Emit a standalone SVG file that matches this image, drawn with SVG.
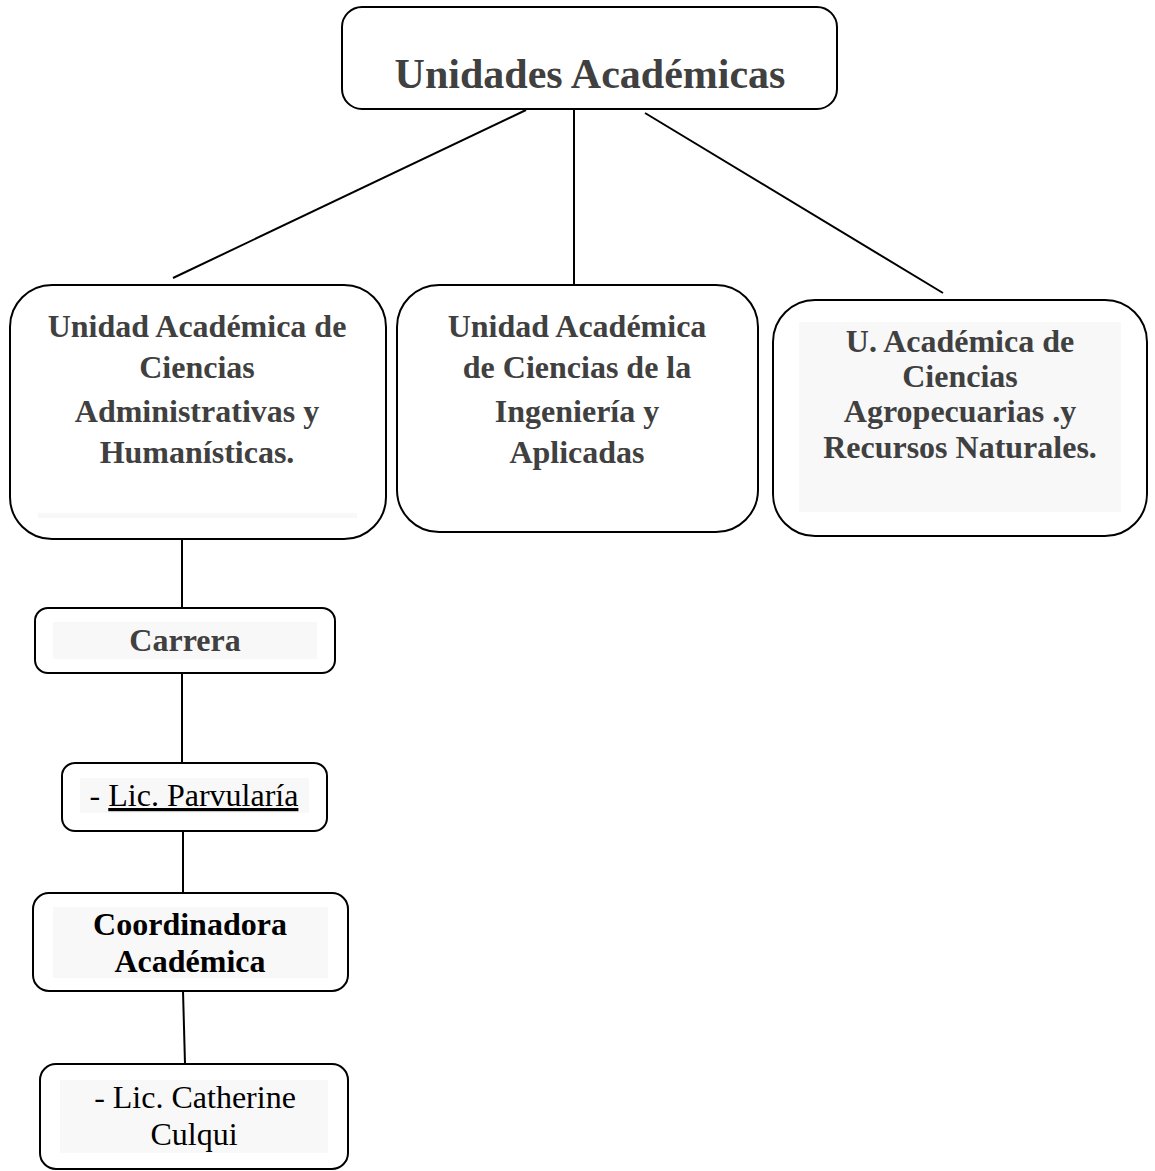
<svg xmlns="http://www.w3.org/2000/svg" width="1155" height="1171" viewBox="0 0 1155 1171">
<style>
.box{fill:#ffffff;stroke:#000000;stroke-width:2}
.hl{fill:#f8f8f8;stroke:none}
.conn line{stroke:#000000;stroke-width:2}
text{font-family:"Liberation Serif","Times New Roman",serif;text-anchor:middle}
.b{font-weight:bold;font-size:32px;fill:#404040}
.bk{font-weight:bold;font-size:32px;fill:#000000}
.n{font-size:32px;fill:#000000}
.t{font-weight:bold;font-size:42px;fill:#404040}
</style>
<rect width="1155" height="1171" fill="#ffffff"/>
<g id="connectors" class="conn">
<line x1="526" y1="110" x2="173" y2="278"/>
<line x1="574" y1="110" x2="574" y2="285"/>
<line x1="645" y1="113" x2="943" y2="293"/>
<line x1="182" y1="540" x2="182" y2="608"/>
<line x1="182" y1="673" x2="182" y2="763"/>
<line x1="183" y1="831" x2="183" y2="893"/>
<line x1="183" y1="991" x2="185" y2="1064"/>
</g>
<g id="node-unidades">
<rect class="box" x="342" y="7" width="495" height="102" rx="20"/>
<text class="t" x="590" y="88">Unidades Académicas</text>
</g>
<g id="node-ua-administrativas">
<rect class="box" x="10" y="285" width="376" height="254" rx="42"/>
<rect class="hl" x="38" y="513" width="319" height="5"/>
<text class="b" x="197" y="337">Unidad Académica de</text>
<text class="b" x="197" y="378">Ciencias</text>
<text class="b" x="197" y="422">Administrativas y</text>
<text class="b" x="197" y="463">Humanísticas.</text>
</g>
<g id="node-ua-ingenieria">
<rect class="box" x="397" y="285" width="361" height="247" rx="42"/>
<text class="b" x="577" y="337">Unidad Académica</text>
<text class="b" x="577" y="378">de Ciencias de la</text>
<text class="b" x="577" y="422">Ingeniería y</text>
<text class="b" x="577" y="463">Aplicadas</text>
</g>
<g id="node-ua-agropecuarias">
<rect class="box" x="773" y="300" width="374" height="236" rx="42"/>
<rect class="hl" x="799" y="322" width="322" height="190"/>
<text class="b" x="960" y="352">U. Académica de</text>
<text class="b" x="960" y="387">Ciencias</text>
<text class="b" x="960" y="422">Agropecuarias .y</text>
<text class="b" x="960" y="458">Recursos Naturales.</text>
</g>
<g id="node-carrera">
<rect class="box" x="35" y="608" width="300" height="65" rx="13"/>
<rect class="hl" x="53" y="622" width="264" height="37"/>
<text class="b" x="185" y="651">Carrera</text>
</g>
<g id="node-parvularia">
<rect class="box" x="62" y="763" width="265" height="68" rx="13"/>
<rect class="hl" x="80" y="778" width="229" height="35"/>
<text class="n" x="194" y="806">- <tspan text-decoration="underline">Lic. Parvularía</tspan></text>
</g>
<g id="node-coordinadora">
<rect class="box" x="33" y="893" width="315" height="98" rx="16"/>
<rect class="hl" x="53" y="907" width="275" height="71"/>
<text class="bk" x="190" y="935">Coordinadora</text>
<text class="bk" x="190" y="972">Académica</text>
</g>
<g id="node-catherine">
<rect class="box" x="40" y="1064" width="308" height="105" rx="16"/>
<rect class="hl" x="60" y="1080" width="268" height="73"/>
<text class="n" x="195" y="1108">- Lic. Catherine</text>
<text class="n" x="194" y="1145">Culqui</text>
</g>
</svg>
